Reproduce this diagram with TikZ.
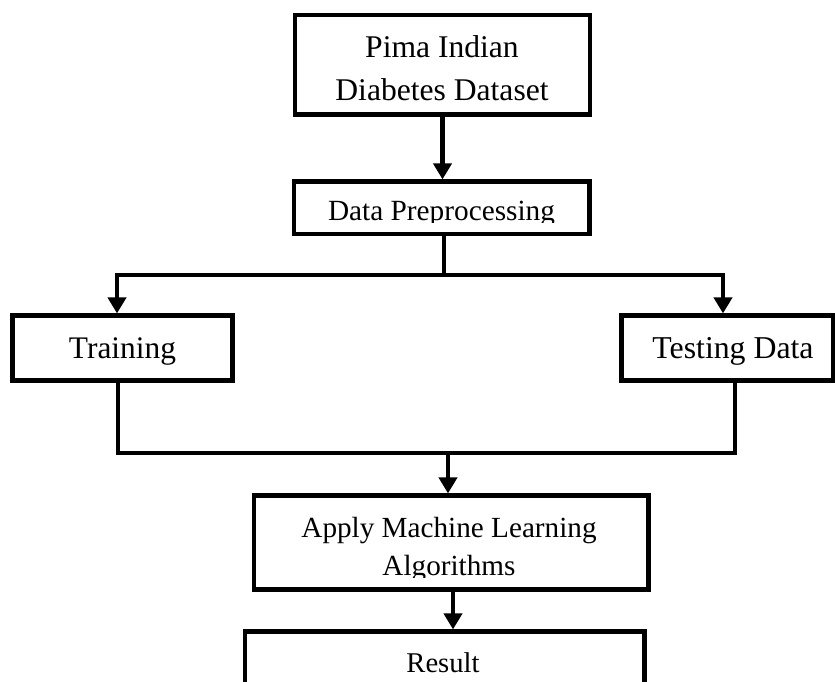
\documentclass[tikz,border=0pt]{standalone}
\usepackage{fontspec}
\setmainfont{Liberation Serif}
\usetikzlibrary{arrows.meta}
\begin{document}
\begin{tikzpicture}[x=1pt,y=-1pt,
  box/.style={draw=black, line width=4.2pt, inner sep=0pt},
  lbl/.style={inner sep=0pt, outer sep=0pt, text=black},
  conn/.style={draw=black, line width=4.5pt},
  arr/.style={conn, -{Triangle[length=16pt,width=18pt]}}]
\useasboundingbox (0,0) rectangle (835,681);
\fill[white] (0,0) rectangle (835,681);
\clip (0,0) rectangle (835,681);

% boxes
\node[box, minimum width=295pt, minimum height=99.5pt] (data) at (442.5,64.75) {};
\node[lbl, align=center, font=\fontsize{31.6}{43}\selectfont] (datat) at (442,67.7) {Pima Indian\\Diabetes Dataset};

\node[box, minimum width=295.5pt, minimum height=52.5pt] (prep) at (441.75,207.75) {};
\begin{scope}
  \clip (296,184) rectangle (588,222.5);
  \node[lbl, anchor=base, font=\fontsize{29.3}{35}\selectfont] (prept) at (441.5,220) {Data Preprocessing};
\end{scope}

\node[box, minimum width=220pt, minimum height=65pt] (train) at (122.5,348) {};
\node[lbl, anchor=base, font=\fontsize{31.4}{37}\selectfont] (traint) at (122.5,358) {Training};

\node[box, minimum width=211.5pt, minimum height=65pt] (test) at (727.25,348) {};
\node[lbl, anchor=base, font=\fontsize{31.8}{37}\selectfont] (testt) at (733,358) {Testing Data};

\node[box, minimum width=394.5pt, minimum height=94pt] (apply) at (451.25,542.5) {};
\begin{scope}
  \clip (256,498) rectangle (646,577.5);
  \node[lbl, align=center, font=\fontsize{29.2}{38}\selectfont] (applyt) at (449,549.25) {Apply Machine Learning\\Algorithms};
\end{scope}

\node[box, minimum width=399.5pt, minimum height=80pt] (result) at (444.75,671.5) {};
\node[lbl, anchor=base, font=\fontsize{28.6}{34}\selectfont] (resultt) at (443,672) {Result};

% connectors
\draw[arr] (data.south) -- (data.south |- prep.north);

\coordinate (split) at (444,275);
\draw[conn] (prep.south -| split) -- (split);
\draw[arr] (split) -| ([xshift=-5.5pt]train.north);
\draw[arr] (split) -| ([xshift=-4.25pt]test.north);

\coordinate (merge) at (448,453);
\draw[conn] ([xshift=-4.5pt]train.south) |- (merge) -| ([xshift=7.75pt]test.south);
\draw[arr] (merge) -- (merge |- apply.north);

\draw[arr] ([xshift=1.75pt]apply.south) -- ([xshift=1.75pt]apply.south |- result.north);
\end{tikzpicture}
\end{document}
